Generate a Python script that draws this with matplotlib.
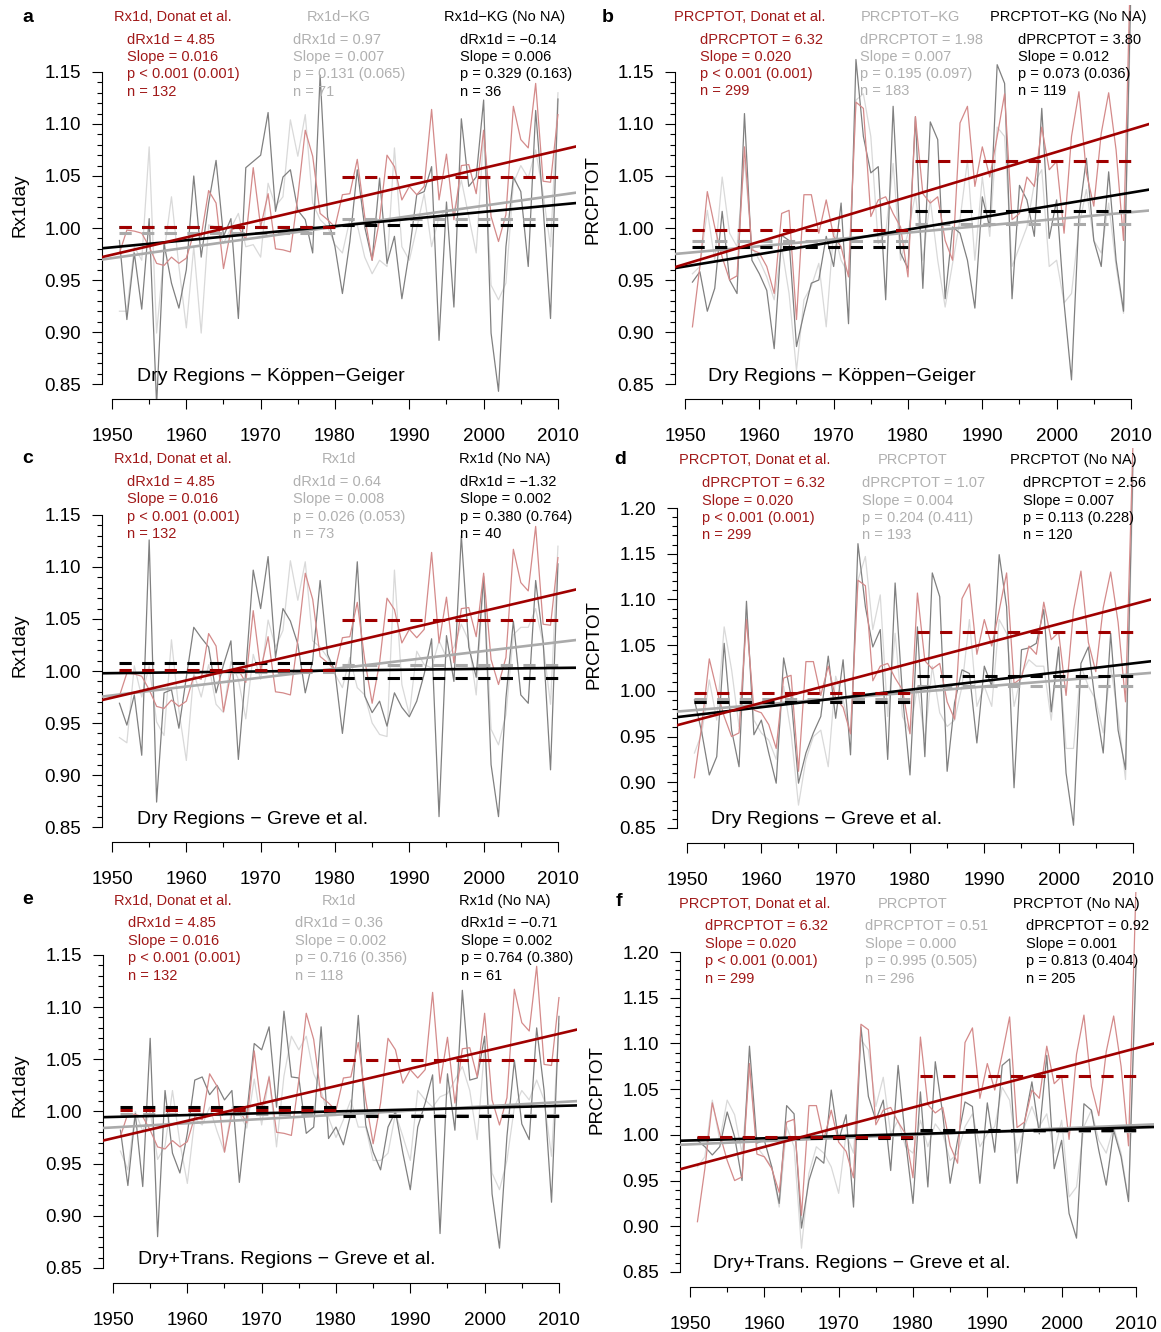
import numpy as np
import matplotlib.pyplot as plt

plt.rcParams['font.family'] = ['Liberation Sans', 'DejaVu Sans']

years = np.arange(1951, 2011)

# Donat et al. series (same in every row)
rx1d_donat = [0.976, 0.998, 0.997, 0.995, 0.982, 0.966, 0.964, 0.972, 0.966, 0.971,
              0.995, 0.992, 1.036, 1.024, 0.961, 0.998, 1.001, 0.989, 1.058, 1.001,
              1.033, 0.980, 0.979, 0.977, 1.030, 1.094, 1.069, 1.014, 1.008, 1.001,
              1.032, 1.033, 1.066, 1.011, 0.969, 1.008, 1.070, 1.059, 1.027, 1.040,
              1.032, 1.040, 1.114, 1.027, 1.071, 1.008, 1.060, 1.061, 1.033, 1.094,
              1.011, 0.987, 1.013, 1.117, 1.085, 1.077, 1.139, 1.045, 1.044, 1.109]
prcptot_donat = [0.905, 0.963, 1.035, 1.001, 0.972, 0.950, 0.954, 1.078, 0.979, 0.976,
                 0.963, 0.937, 1.014, 1.017, 0.912, 1.032, 1.032, 0.995, 1.027, 0.992,
                 0.982, 0.953, 1.121, 1.115, 1.011, 1.027, 1.030, 1.014, 1.001, 0.953,
                 1.107, 1.033, 1.024, 1.030, 0.988, 0.969, 1.101, 1.117, 1.040, 1.078,
                 1.049, 1.088, 1.129, 1.008, 1.014, 1.049, 1.040, 1.097, 1.056, 1.064,
                 0.995, 1.088, 1.131, 1.053, 1.021, 1.091, 1.130, 1.075, 0.988, 1.270]

# Koppen-Geiger dry regions
rx1d_kg = [0.920, 0.920, 0.982, 0.969, 1.078, 0.899, 0.976, 1.030, 0.963, 0.904,
           0.982, 0.899, 1.003, 1.001, 0.985, 1.000, 1.014, 0.982, 0.984, 0.972,
           1.043, 1.021, 1.030, 1.104, 1.069, 1.109, 1.024, 1.008, 1.001, 0.984,
           0.976, 1.008, 1.003, 0.972, 0.956, 0.969, 0.963, 1.077, 0.982, 0.969,
           1.000, 1.033, 0.982, 1.011, 1.017, 1.016, 1.046, 1.011, 0.976, 1.090,
           0.945, 0.931, 0.947, 1.043, 1.060, 1.048, 1.075, 1.033, 0.982, 1.130]
rx1d_kg_nona = [0.988, 0.912, 0.976, 0.922, 1.009, 0.830, 0.985, 0.947, 0.923, 0.960,
                1.050, 0.972, 1.024, 1.065, 0.992, 1.009, 0.913, 1.058, 1.064, 1.070,
                1.111, 1.016, 1.049, 1.056, 1.017, 1.008, 0.976, 1.147, 1.011, 0.982,
                0.937, 0.987, 1.056, 1.001, 0.969, 1.048, 0.966, 0.992, 0.932, 0.977,
                1.032, 1.035, 1.059, 0.892, 1.025, 0.924, 1.105, 1.040, 1.049, 1.123,
                0.899, 0.843, 0.982, 1.049, 1.035, 0.963, 1.113, 1.021, 0.913, 1.124]
prcptot_kg = [0.956, 0.963, 1.017, 0.969, 1.049, 0.995, 0.982, 1.065, 0.982, 0.969,
              0.953, 0.931, 0.982, 0.937, 0.863, 0.931, 0.944, 0.966, 0.905, 0.998,
              0.969, 0.956, 1.123, 1.129, 1.088, 0.985, 0.995, 1.062, 0.969, 0.995,
              1.033, 0.969, 1.027, 0.969, 0.924, 0.966, 1.008, 1.065, 0.969, 1.049,
              0.992, 1.097, 1.088, 0.963, 0.982, 1.001, 1.043, 1.056, 0.963, 0.969,
              0.928, 0.937, 1.001, 1.037, 0.988, 0.976, 1.024, 0.963, 0.918, 1.220]
prcptot_kg_nona = [0.948, 0.958, 0.920, 0.942, 1.016, 0.950, 0.937, 1.110, 0.969, 0.956,
                   0.940, 0.884, 0.993, 0.988, 0.886, 0.918, 0.947, 0.950, 0.992, 0.963,
                   1.024, 0.908, 1.162, 1.088, 1.053, 1.059, 0.931, 1.117, 0.976, 0.961,
                   1.107, 0.942, 1.102, 1.085, 0.932, 1.001, 0.995, 0.969, 0.923, 1.030,
                   1.001, 1.157, 1.139, 0.932, 1.041, 1.027, 0.992, 1.115, 0.990, 1.027,
                   0.928, 0.854, 1.011, 1.067, 0.988, 0.963, 1.054, 0.969, 0.920, 1.240]

# Greve et al. dry regions
rx1d_greve = [0.936, 0.931, 1.005, 0.975, 1.005, 0.951, 0.938, 1.030, 0.962, 0.914,
              0.998, 0.975, 1.006, 0.968, 0.960, 1.009, 0.992, 0.954, 1.016, 0.992,
              1.049, 1.023, 1.039, 1.106, 1.068, 1.105, 1.029, 1.023, 1.013, 0.997,
              0.984, 1.013, 0.984, 0.977, 0.950, 0.939, 0.937, 1.097, 0.987, 0.958,
              1.019, 1.006, 1.003, 1.029, 1.013, 1.023, 1.045, 1.029, 0.977, 1.090,
              0.944, 0.929, 0.958, 1.035, 1.042, 1.042, 1.060, 1.026, 0.968, 1.120]
rx1d_greve_nona = [0.969, 0.948, 0.977, 0.919, 1.126, 0.874, 0.979, 0.982, 0.945, 0.994,
                   1.042, 1.032, 1.023, 0.979, 1.006, 1.029, 0.915, 1.000, 1.097, 1.060,
                   1.110, 1.013, 1.060, 1.048, 1.026, 0.979, 1.010, 1.087, 1.016, 1.000,
                   0.940, 1.002, 1.105, 0.976, 0.960, 0.971, 0.947, 0.979, 0.965, 0.956,
                   0.971, 0.997, 1.031, 0.860, 1.034, 0.990, 1.130, 1.023, 0.994, 1.091,
                   0.910, 0.860, 0.974, 1.048, 0.977, 0.969, 1.087, 1.029, 0.905, 1.103]
prcptot_greve = [0.932, 0.954, 1.012, 0.968, 1.070, 1.023, 0.961, 1.089, 0.968, 0.954,
                 0.946, 0.925, 1.005, 0.954, 0.875, 0.925, 0.950, 0.957, 0.917, 1.016,
                 0.990, 0.954, 1.121, 1.147, 1.067, 1.105, 0.972, 1.063, 0.972, 0.954,
                 1.005, 0.946, 1.027, 0.976, 0.961, 0.968, 1.005, 1.078, 0.983, 1.005,
                 0.983, 1.078, 1.063, 0.983, 1.019, 1.034, 1.027, 1.027, 0.968, 1.045,
                 0.937, 0.937, 1.027, 1.005, 0.990, 0.954, 1.027, 0.972, 0.903, 1.230]
prcptot_greve_nona = [0.990, 0.954, 0.908, 0.928, 1.052, 0.957, 0.917, 1.098, 0.952, 0.968,
                      0.932, 0.899, 1.036, 0.994, 0.899, 0.932, 0.954, 0.972, 1.038, 0.970,
                      1.034, 0.930, 1.161, 1.092, 1.048, 1.067, 0.925, 1.118, 0.994, 0.908,
                      1.070, 0.928, 1.129, 1.103, 0.912, 0.987, 1.023, 1.019, 0.943, 1.027,
                      1.005, 1.149, 1.092, 0.894, 1.045, 1.047, 1.052, 1.089, 0.977, 1.048,
                      0.910, 0.853, 1.030, 1.048, 0.983, 0.932, 1.063, 0.957, 0.914, 1.250]

# Greve et al. dry + transitional regions
rx1d_trans = [0.962, 0.944, 1.000, 0.981, 1.000, 0.954, 0.967, 1.020, 0.970, 0.931,
              0.993, 0.987, 1.004, 0.981, 0.961, 1.004, 0.998, 0.984, 1.031, 0.987,
              1.034, 0.966, 1.034, 1.072, 1.059, 1.072, 1.036, 1.020, 0.994, 0.975,
              0.992, 1.011, 0.985, 0.985, 0.953, 0.953, 0.960, 0.998, 0.976, 0.953,
              1.020, 1.011, 1.004, 1.014, 1.017, 1.030, 1.043, 1.020, 0.973, 1.062,
              0.941, 0.925, 0.953, 1.004, 1.020, 1.011, 1.030, 1.011, 0.957, 1.084]
rx1d_trans_nona = [0.982, 0.929, 0.998, 0.928, 1.070, 0.880, 1.020, 0.960, 0.941, 0.979,
                   1.030, 1.033, 1.016, 1.025, 1.011, 1.020, 0.932, 0.998, 1.065, 1.059,
                   1.081, 1.004, 1.096, 1.033, 1.032, 0.979, 0.985, 1.081, 0.974, 0.985,
                   0.968, 0.998, 1.092, 0.987, 0.961, 0.944, 0.985, 1.000, 0.960, 0.925,
                   0.985, 1.008, 1.035, 0.883, 1.036, 0.982, 1.116, 1.030, 1.032, 1.072,
                   0.921, 0.869, 0.976, 1.049, 0.988, 0.973, 1.080, 1.020, 0.913, 1.091]
prcptot_trans = [0.965, 0.976, 1.038, 0.994, 1.038, 1.022, 0.980, 1.071, 0.987, 0.976,
                 0.965, 0.921, 1.009, 0.987, 0.876, 0.958, 0.987, 0.980, 0.965, 0.936,
                 1.001, 0.980, 1.104, 1.093, 1.031, 1.063, 1.001, 1.016, 0.987, 0.980,
                 1.016, 0.987, 1.012, 1.001, 0.972, 0.980, 1.009, 1.023, 0.987, 1.001,
                 1.009, 1.052, 1.038, 0.980, 1.009, 1.031, 1.009, 1.023, 0.980, 1.016,
                 0.932, 0.943, 1.009, 1.027, 0.994, 0.980, 1.009, 0.980, 0.929, 1.191]
prcptot_trans_nona = [0.994, 0.987, 0.978, 0.987, 1.025, 0.998, 0.950, 1.097, 0.991, 0.994,
                      0.965, 0.925, 1.032, 1.023, 0.898, 0.950, 0.976, 0.969, 1.049, 0.994,
                      1.022, 0.921, 1.118, 1.042, 1.016, 1.038, 0.961, 1.076, 0.994, 0.925,
                      1.047, 0.943, 1.080, 1.023, 0.947, 0.994, 1.036, 1.031, 0.947, 1.035,
                      0.981, 1.076, 1.083, 0.947, 1.014, 1.058, 1.001, 1.087, 0.963, 0.994,
                      0.914, 0.887, 1.034, 1.027, 0.983, 0.945, 1.005, 0.976, 0.927, 1.184]

W, H = 1161, 1332
RED, RED_THIN = '#A00000', '#D48A8A'
LGRAY, LGRAY_THIN, DGRAY = '#AAAAAA', '#D9D9D9', '#808080'
TXT_RED, TXT_GRAY = '#A01818', '#B0B0B0'

# one dict per panel: box in pixels (left, top, right, bottom), series and texts
panels = [
    dict(letter='a', box=(101.9, 5.4, 575.5, 398.6), ylim=(0.836, 1.214), ytop=1.15,
         red=rx1d_donat, gray=rx1d_kg, dark=rx1d_kg_nona, ylabel='Rx1day', ylab_xy=(20, 205),
         region='Dry Regions \u2212 K\u00f6ppen\u2212Geiger', region_xy=(137, 376),
         letter_xy=(28, 17), head_y=17, head_x=(173, 339, 505),
         heads=('Rx1d, Donat et al.', 'Rx1d\u2212KG', 'Rx1d\u2212KG (No NA)'),
         stat_x=(127, 293, 460), stat_y=(40, 57, 74, 92),
         stats=(('dRx1d = 4.85', 'Slope = 0.016', 'p < 0.001 (0.001)', 'n = 132'),
                ('dRx1d = 0.97', 'Slope = 0.007', 'p = 0.131 (0.065)', 'n = 71'),
                ('dRx1d = \u22120.14', 'Slope = 0.006', 'p = 0.329 (0.163)', 'n = 36'))),
    dict(letter='b', box=(674.9, 5.4, 1148.5, 398.6), ylim=(0.836, 1.214), ytop=1.15,
         red=prcptot_donat, gray=prcptot_kg, dark=prcptot_kg_nona, ylabel='PRCPTOT', ylab_xy=(593, 200),
         region='Dry Regions \u2212 K\u00f6ppen\u2212Geiger', region_xy=(708, 376),
         letter_xy=(608, 17), head_y=17, head_x=(750, 910, 1068),
         heads=('PRCPTOT, Donat et al.', 'PRCPTOT\u2212KG', 'PRCPTOT\u2212KG (No NA)'),
         stat_x=(700, 860, 1018), stat_y=(40, 57, 74, 91),
         stats=(('dPRCPTOT = 6.32', 'Slope = 0.020', 'p < 0.001 (0.001)', 'n = 299'),
                ('dPRCPTOT = 1.98', 'Slope = 0.007', 'p = 0.195 (0.097)', 'n = 183'),
                ('dPRCPTOT = 3.80', 'Slope = 0.012', 'p = 0.073 (0.036)', 'n = 119'))),
    dict(letter='c', box=(101.9, 448.4, 575.5, 841.6), ylim=(0.836, 1.214), ytop=1.15,
         red=rx1d_donat, gray=rx1d_greve, dark=rx1d_greve_nona, ylabel='Rx1day', ylab_xy=(20, 645),
         region='Dry Regions \u2212 Greve et al.', region_xy=(137, 819),
         letter_xy=(28, 459), head_y=459, head_x=(173, 339, 505),
         heads=('Rx1d, Donat et al.', 'Rx1d', 'Rx1d (No NA)'),
         stat_x=(127, 293, 460), stat_y=(482, 499, 517, 534),
         stats=(('dRx1d = 4.85', 'Slope = 0.016', 'p < 0.001 (0.001)', 'n = 132'),
                ('dRx1d = 0.64', 'Slope = 0.008', 'p = 0.026 (0.053)', 'n = 73'),
                ('dRx1d = \u22121.32', 'Slope = 0.002', 'p = 0.380 (0.764)', 'n = 40'))),
    dict(letter='d', box=(676.9, 447.7, 1150.5, 842.6), ylim=(0.834, 1.266), ytop=1.20,
         red=prcptot_donat, gray=prcptot_greve, dark=prcptot_greve_nona, ylabel='PRCPTOT', ylab_xy=(594, 645),
         region='Dry Regions \u2212 Greve et al.', region_xy=(711, 820),
         letter_xy=(620, 460), head_y=460, head_x=(755, 913, 1073),
         heads=('PRCPTOT, Donat et al.', 'PRCPTOT', 'PRCPTOT (No NA)'),
         stat_x=(702, 862, 1023), stat_y=(483, 501, 518, 535),
         stats=(('dPRCPTOT = 6.32', 'Slope = 0.020', 'p < 0.001 (0.001)', 'n = 299'),
                ('dPRCPTOT = 1.07', 'Slope = 0.004', 'p = 0.204 (0.411)', 'n = 193'),
                ('dPRCPTOT = 2.56', 'Slope = 0.007', 'p = 0.113 (0.228)', 'n = 120'))),
    dict(letter='e', box=(102.9, 888.0, 576.5, 1282.6), ylim=(0.836, 1.214), ytop=1.15,
         red=rx1d_donat, gray=rx1d_trans, dark=rx1d_trans_nona, ylabel='Rx1day', ylab_xy=(20, 1085),
         region='Dry+Trans. Regions \u2212 Greve et al.', region_xy=(138, 1259),
         letter_xy=(28, 899), head_y=901, head_x=(173, 339, 505),
         heads=('Rx1d, Donat et al.', 'Rx1d', 'Rx1d (No NA)'),
         stat_x=(128, 295, 461), stat_y=(923, 941, 958, 976),
         stats=(('dRx1d = 4.85', 'Slope = 0.016', 'p < 0.001 (0.001)', 'n = 132'),
                ('dRx1d = 0.36', 'Slope = 0.002', 'p = 0.716 (0.356)', 'n = 118'),
                ('dRx1d = \u22120.71', 'Slope = 0.002', 'p = 0.764 (0.380)', 'n = 61'))),
    dict(letter='f', box=(679.9, 891.7, 1153.5, 1286.6), ylim=(0.834, 1.266), ytop=1.20,
         red=prcptot_donat, gray=prcptot_trans, dark=prcptot_trans_nona, ylabel='PRCPTOT', ylab_xy=(597, 1090),
         region='Dry+Trans. Regions \u2212 Greve et al.', region_xy=(713, 1263),
         letter_xy=(619, 901), head_y=904, head_x=(755, 913, 1076),
         heads=('PRCPTOT, Donat et al.', 'PRCPTOT', 'PRCPTOT (No NA)'),
         stat_x=(705, 865, 1026), stat_y=(926, 944, 961, 979),
         stats=(('dPRCPTOT = 6.32', 'Slope = 0.020', 'p < 0.001 (0.001)', 'n = 299'),
                ('dPRCPTOT = 0.51', 'Slope = 0.000', 'p = 0.995 (0.505)', 'n = 296'),
                ('dPRCPTOT = 0.92', 'Slope = 0.001', 'p = 0.813 (0.404)', 'n = 205'))),
]

fig = plt.figure(figsize=(W / 100, H / 100), dpi=100)


def fxy(x, y):
    return x / W, 1 - y / H


xlim = (1948.64, 2012.36)
first = years <= 1980
second = years > 1980

for p in panels:
    l, t, r, b = p['box']
    ax = fig.add_axes([l / W, 1 - b / H, (r - l) / W, (b - t) / H])
    ax.set_xlim(*xlim)
    ax.set_ylim(*p['ylim'])

    # thin yearly series
    ax.plot(years, p['gray'], color=LGRAY_THIN, lw=0.9, zorder=2)
    ax.plot(years, p['dark'], color=DGRAY, lw=0.9, zorder=3)
    ax.plot(years, p['red'], color=RED_THIN, lw=0.9, zorder=4)

    # period means and linear trends
    for vals, col, z in ((p['gray'], LGRAY, 5), (p['dark'], 'black', 6), (p['red'], RED, 7)):
        v = np.asarray(vals)
        for mask in (first, second):
            yy = years[mask]
            ax.plot([yy[0], yy[-1]], [v[mask].mean()] * 2, color=col, lw=2.2,
                    dashes=(4, 3.4), zorder=z)
        k, c0 = np.polyfit(years, v, 1)
        xx = np.array(xlim)
        ax.plot(xx, k * xx + c0, color=col, lw=1.9, zorder=z + 0.5)

    for s in ('top', 'right'):
        ax.spines[s].set_visible(False)
    ax.spines['left'].set_bounds(0.85, p['ytop'])
    ax.spines['bottom'].set_bounds(1950, 2010)
    ax.set_yticks(np.round(np.arange(0.85, p['ytop'] + 0.001, 0.05), 2))
    ax.set_yticks(np.round(np.arange(0.85, p['ytop'] + 0.001, 0.01), 2), minor=True)
    ax.set_yticklabels(['%.2f' % v for v in np.arange(0.85, p['ytop'] + 0.001, 0.05)])
    ax.set_xticks(np.arange(1950, 2011, 10))
    ax.set_xticks(np.arange(1955, 2010, 10), minor=True)
    ax.tick_params(which='major', length=7, width=0.8, labelsize=13.5)
    ax.tick_params(which='minor', length=3.5, width=0.8)
    ax.tick_params(axis='x', which='major', pad=14)
    ax.tick_params(axis='y', which='major', pad=8)
    ax.patch.set_alpha(0)

    # labels and annotations
    fig.text(*fxy(*p['ylab_xy']), p['ylabel'], rotation=90, ha='center', va='center', fontsize=13.5)
    fig.text(*fxy(*p['region_xy']), p['region'], ha='left', va='center', fontsize=14)
    fig.text(*fxy(*p['letter_xy']), p['letter'], ha='center', va='center', fontsize=14, fontweight='bold')
    for hx, head, col in zip(p['head_x'], p['heads'], (TXT_RED, TXT_GRAY, 'black')):
        fig.text(*fxy(hx, p['head_y']), head, ha='center', va='center', fontsize=10.5, color=col)
    for sx, lines, col in zip(p['stat_x'], p['stats'], (TXT_RED, TXT_GRAY, 'black')):
        for sy, line in zip(p['stat_y'], lines):
            fig.text(*fxy(sx, sy), line, ha='left', va='center', fontsize=10.5, color=col)

fig.savefig('out.png', dpi=100)
